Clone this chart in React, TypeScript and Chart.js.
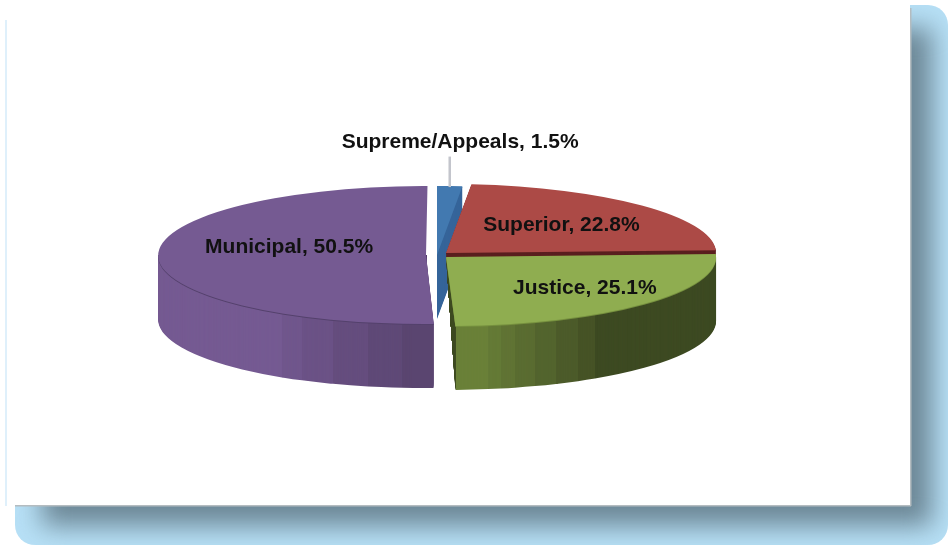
import React, { useEffect, useRef } from "react";
import { Chart, registerables } from "chart.js";

Chart.register(...registerables);

const categories = ["Supreme/Appeals", "Superior", "Justice", "Municipal"];
const shares = [1.5, 22.8, 25.1, 50.5];

const topColors = ["#4279b0", "#ac4a46", "#8fad50", "#755a92"];
const explode = [0, 44, 44, 0];
const nudgeX = [-1, 0, 0, -12];
const scaleX = [1, 1, 1, 0.992];
const skewX = [0, 0, 0, -0.0055];
const wallDepth = 64;
const squash = 0.2556;
const edgeColors = ["#366599", "#5a1f1f", "#76903f", "#54416c"];
// Shaded facets of the side wall: [right edge x, colour], left to right.
const wallBands: [number, string][][] = [
  [[948, "#36659a"]],
  [[948, "#5a1f1f"]],
  [
    [456, "#3f4c22"],
    [488, "#6a8038"],
    [501, "#647a36"],
    [515, "#607334"],
    [535, "#5a6c31"],
    [556, "#53642e"],
    [578, "#4c5b2a"],
    [595, "#465326"],
    [948, "#3d4a22"],
  ],
  [
    [282, "#755a92"],
    [302, "#70568c"],
    [333, "#6b5286"],
    [368, "#654d7e"],
    [402, "#5f4977"],
    [948, "#5a4570"],
  ],
];
const labelRadial = [1.66, 0.61, 0.66, 0.507];
const labelShiftX = [2, -4, 8, 0];
const labelShiftY = [2, 1, 0, -8.7];

function paintFrame(ctx: CanvasRenderingContext2D) {
  ctx.save();
  ctx.fillStyle = "#ffffff";
  ctx.fillRect(0, 0, 948, 545);
  ctx.beginPath();
  ctx.roundRect(15, 5, 933, 540, 20);
  ctx.clip();
  ctx.fillStyle = "#b7e0f6";
  ctx.fillRect(0, 0, 948, 545);
  ctx.filter = "blur(13px)";
  ctx.fillStyle = "#6c8796";
  ctx.fillRect(42, 28, 890, 498);
  ctx.restore();
  ctx.save();
  ctx.fillStyle = "#dff0fb";
  ctx.fillRect(5, 20, 2, 486);
  ctx.fillStyle = "#ffffff";
  ctx.fillRect(7, 0, 903, 505);
  ctx.fillStyle = "#b4bcc0";
  ctx.fillRect(15, 505, 896, 1.5);
  ctx.fillRect(910, 8, 1.5, 498);
  ctx.restore();
}

const pie3d = {
  id: "pie3d",
  beforeDraw(chart: any) {
    paintFrame(chart.ctx);
  },
  beforeDatasetsDraw(chart: any) {
    const ctx: CanvasRenderingContext2D = chart.ctx;
    const arcs = chart.getDatasetMeta(0).data;
    const paint = (arc: any, i: number, color: string, k: number) => {
      const saved = arc.options;
      arc.options = { ...saved, backgroundColor: color };
      ctx.save();
      ctx.translate(arc.x + nudgeX[i], arc.y + k);
      ctx.transform(scaleX[i], 0, skewX[i], squash, 0, 0);
      ctx.translate(-arc.x, -arc.y);
      arc.draw(ctx);
      ctx.restore();
      arc.options = saved;
    };
    const origin = (arc: any, i: number) => {
      const mid = (arc.startAngle + arc.endAngle) / 2;
      const push = explode[i] / 4;
      return {
        mid,
        x: arc.x + nudgeX[i] + Math.cos(mid) * push,
        y: arc.y + Math.sin(mid) * push * squash,
      };
    };
    // the cut face of the Justice wedge leans inwards towards its foot
    const justice = arcs[2];
    const jo = origin(justice, 2);
    const footX = jo.x + Math.cos(justice.endAngle) * justice.outerRadius;
    const footY = jo.y + Math.sin(justice.endAngle) * justice.outerRadius * squash + wallDepth;
    // the wall of Municipal stays behind its front cut edge
    const municipal = arcs[3];
    const mo = origin(municipal, 3);
    const mr = municipal.outerRadius;
    const cornerX =
      mo.x +
      Math.cos(municipal.startAngle) * mr * scaleX[3] +
      Math.sin(municipal.startAngle) * mr * skewX[3];
    const cornerY = mo.y + Math.sin(municipal.startAngle) * mr * squash;
    arcs.forEach((arc: any, i: number) => {
      let left = 0;
      for (const [right, color] of wallBands[i]) {
        ctx.save();
        ctx.beginPath();
        ctx.rect(left, 0, right - left, 545);
        ctx.clip();
        if (i === 1 || i === 2) {
          ctx.beginPath();
          ctx.moveTo(jo.x, 0);
          ctx.lineTo(jo.x, jo.y);
          ctx.lineTo(footX, footY);
          ctx.lineTo(footX, 545);
          ctx.lineTo(948, 545);
          ctx.lineTo(948, 0);
          ctx.closePath();
          ctx.clip();
        }
        if (i === 3) {
          ctx.beginPath();
          ctx.moveTo(0, mo.y);
          ctx.lineTo(mo.x, mo.y);
          ctx.lineTo(cornerX, cornerY);
          ctx.lineTo(cornerX, 545);
          ctx.lineTo(0, 545);
          ctx.closePath();
          ctx.clip();
        }
        for (let k = wallDepth; k >= 1; k--) paint(arc, i, color, k);
        ctx.restore();
        left = right;
      }
      if (i === 3) {
        ctx.save();
        ctx.beginPath();
        ctx.rect(0, mo.y, cornerX, 545);
        ctx.clip();
        paint(arc, i, edgeColors[i], 1);
        ctx.restore();
      } else {
        paint(arc, i, edgeColors[i], 1);
      }
      paint(arc, i, topColors[i], 0);
    });
    // leader line and labels
    ctx.save();
    ctx.font = "bold 21px 'Liberation Sans', Arial, sans-serif";
    ctx.textAlign = "center";
    ctx.textBaseline = "middle";
    arcs.forEach((arc: any, i: number) => {
      const o = origin(arc, i);
      const r = arc.outerRadius * labelRadial[i];
      const tx = o.x + Math.cos(o.mid) * r + labelShiftX[i];
      const ty = o.y + Math.sin(o.mid) * r * squash + labelShiftY[i];
      if (i === 0) {
        ctx.strokeStyle = "#c3c5cc";
        ctx.lineWidth = 2.5;
        const ax = o.x + Math.cos(o.mid) * arc.outerRadius;
        const ay = o.y + Math.sin(o.mid) * arc.outerRadius * squash;
        ctx.beginPath();
        ctx.moveTo(ax, ay + 1);
        ctx.lineTo(ax, ty + 14);
        ctx.stroke();
      }
      ctx.fillStyle = "#111111";
      ctx.fillText(`${categories[i]}, ${shares[i]}%`, tx, ty);
    });
    ctx.restore();
    return false;
  },
};

export default function App() {
  const ref = useRef<HTMLCanvasElement>(null);
  useEffect(() => {
    const chart = new Chart(ref.current!, {
      type: "pie",
      data: {
        labels: categories,
        datasets: [
          {
            data: shares,
            backgroundColor: topColors,
            offset: explode,
            borderWidth: 0,
            radius: 270,
          } as any,
        ],
      },
      options: {
        animation: false,
        responsive: false,
        events: [],
        layout: { padding: { left: 0, top: 0, right: 72, bottom: 35 } },
        plugins: { legend: { display: false }, tooltip: { enabled: false } },
      },
      plugins: [pie3d],
    } as any);
    return () => chart.destroy();
  }, []);
  return (
    <canvas
      ref={ref}
      width={948}
      height={545}
      style={{ position: "fixed", left: 0, top: 0, display: "block", filter: "blur(0.6px)" }}
    />
  );
}
